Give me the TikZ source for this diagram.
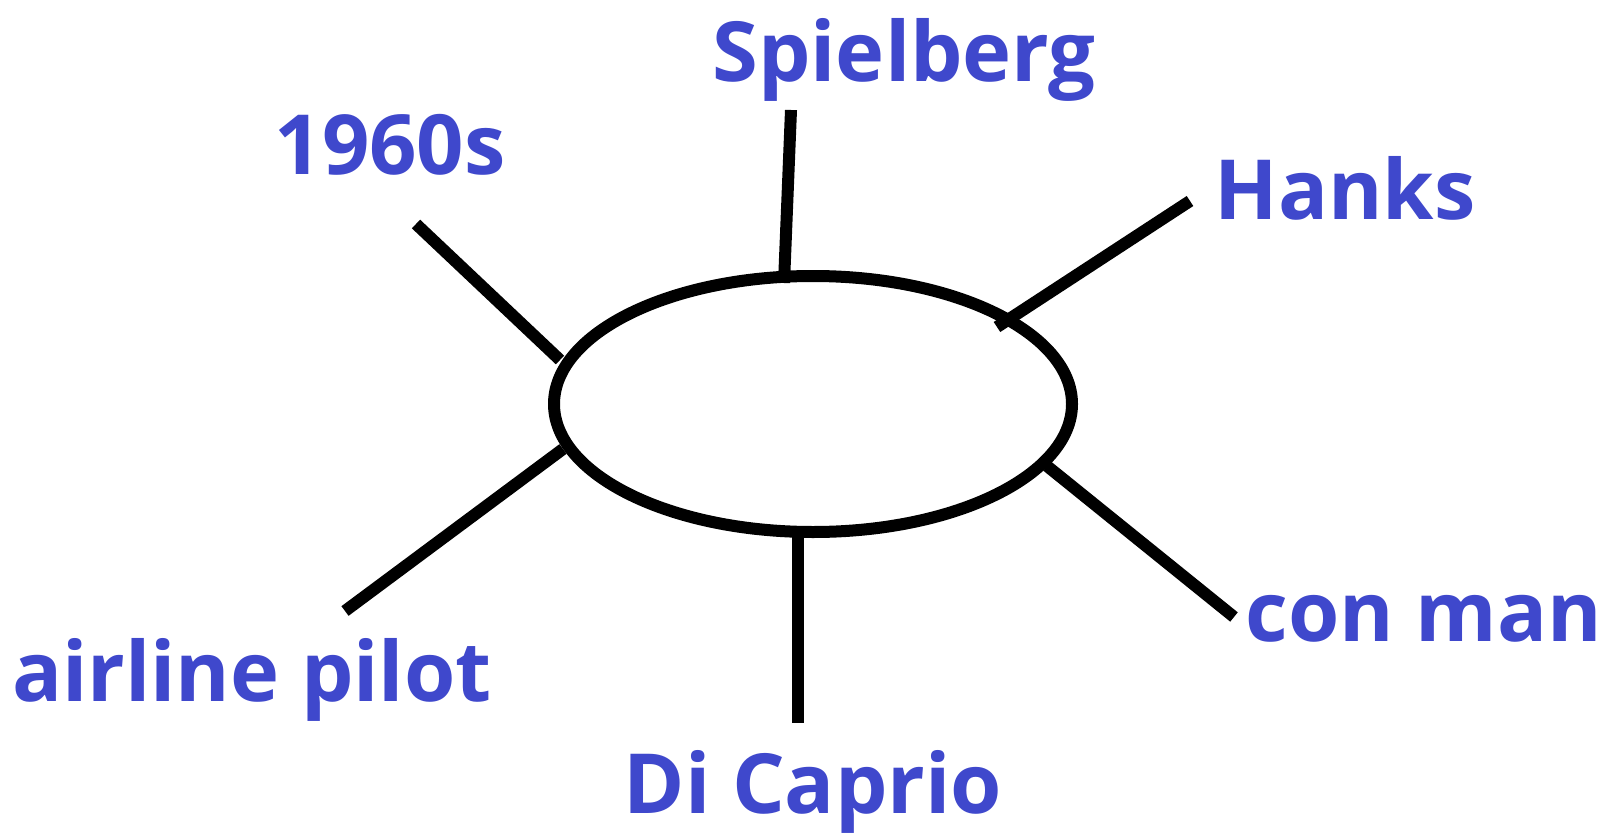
\documentclass[tikz,border=0pt]{standalone}
\usepackage{fontspec}
\setmainfont{Open Sans}
\usetikzlibrary{shapes.geometric}
\definecolor{lbl}{HTML}{3F48CC}
\tikzset{
  lab/.style={text=lbl, font=\fontsize{83}{96}\selectfont\bfseries, inner sep=0pt, anchor=center},
  spoke/.style={line width=12pt, black},
}
\begin{document}
\begin{tikzpicture}[x=1pt,y=-1pt]
\useasboundingbox (0,0) rectangle (1612,840);
\draw[line width=12pt] (813,404) ellipse [x radius=259, y radius=128];
% spoke endpoints
\coordinate (a1) at (416,224); \coordinate (a2) at (560,360);
\coordinate (b1) at (791,110); \coordinate (b2) at (784,283);
\coordinate (h1) at (1190,201); \coordinate (h2) at (997,327);
\coordinate (m1) at (1234,617); \coordinate (m2) at (1047,466);
\coordinate (d1) at (798,527); \coordinate (d2) at (798,723);
\coordinate (p1) at (345,611); \coordinate (p2) at (563,449);
\draw[spoke] (a1) -- (a2);
\draw[spoke] (b1) -- (b2);
\draw[spoke] (h1) -- (h2);
\draw[spoke] (m1) -- (m2);
\draw[spoke] (d1) -- (d2);
\draw[spoke] (p1) -- (p2);
\node[lab] (spielberg) at (904,60) {Spielberg};
\node[lab] (sixties) at (390,145) {1960s};
\node[lab] (hanks) at (1345,188) {Hanks};
\node[lab] (conman) at (1424,619) {con man};
\node[lab] (pilot) at (252,680) {airline pilot};
\node[lab] (dicaprio) at (813,792) {Di Caprio};
\end{tikzpicture}
\end{document}
